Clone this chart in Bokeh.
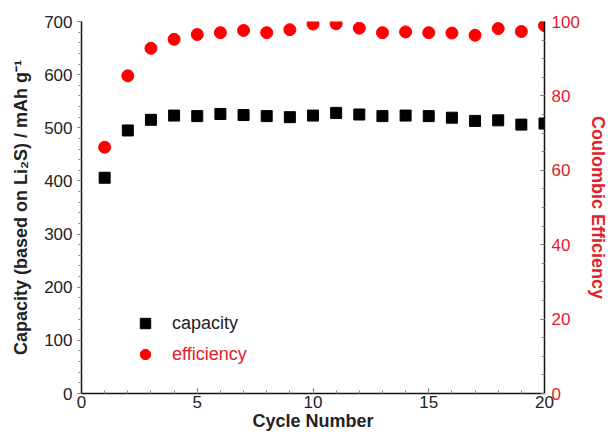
from bokeh.plotting import figure
from bokeh.models import (Range1d, LinearAxis, SingleIntervalTicker, Legend, LegendItem,
                          ColumnDataSource)
from bokeh.embed import file_html
from bokeh.resources import INLINE

cycles = list(range(1, 21))
capacity = [406, 495, 515, 523, 522, 526, 524, 522, 520, 523,
            528, 525, 522, 523, 522, 519, 513, 514, 506, 508]
efficiency = [66.2, 85.4, 92.8, 95.2, 96.5, 97.0, 97.6, 97.0, 97.8, 99.3,
              99.4, 98.2, 97.0, 97.2, 97.0, 96.9, 96.3, 98.1, 97.3, 98.9]

FONT = "Liberation Sans"
RED = "#ff0000"
RED_TXT = "#e3202a"

src = ColumnDataSource(dict(cycle=cycles, cap=capacity, eff=efficiency))

p = figure(width=610, height=436, output_backend="svg", toolbar_location=None,
           x_range=Range1d(0, 20), y_range=Range1d(0, 700),
           min_border_left=81, min_border_right=65, min_border_top=21, min_border_bottom=43)
p.outline_line_color = None
p.xgrid.visible = False
p.ygrid.visible = False
p.background_fill_color = "white"
p.border_fill_color = "white"

p.extra_y_ranges = {"eff": Range1d(0, 100)}

# bottom axis
xa = p.xaxis[0]
xa.ticker = SingleIntervalTicker(interval=5, num_minor_ticks=5)
xa.axis_label = "Cycle Number"
# left axis
ya = p.yaxis[0]
ya.ticker = SingleIntervalTicker(interval=100, num_minor_ticks=5)
ya.axis_label = "Capacity (based on Li\u2082S) / mAh g\u207b\u00b9"

ra = LinearAxis(y_range_name="eff", axis_label="Coulombic Efficiency",
                ticker=SingleIntervalTicker(interval=20, num_minor_ticks=4))
p.add_layout(ra, "right")

for ax in (xa, ya, ra):
    ax.axis_line_width = 1.5
    ax.axis_line_color = "#111111"
    ax.major_tick_line_color = "#555555"
    ax.minor_tick_line_color = "#888888"
    ax.major_label_text_font = FONT
    ax.major_label_text_font_size = "17px"
    ax.axis_label_text_font = FONT
    ax.axis_label_text_font_size = "18px"
    ax.axis_label_text_font_style = "bold"

xa.major_tick_in = 5; xa.major_tick_out = 0
xa.minor_tick_in = 3; xa.minor_tick_out = 0
xa.major_label_standoff = 2
xa.axis_label_standoff = 0
xa.major_label_text_color = "#222222"
xa.axis_label_text_color = "#222222"

ya.major_tick_in = 0; ya.major_tick_out = 4
ya.minor_tick_in = 0; ya.minor_tick_out = 3
ya.major_label_standoff = 5
ya.axis_label_standoff = 10
ya.major_label_text_color = "#222222"
ya.axis_label_text_color = "#222222"

ra.major_tick_in = 4; ra.major_tick_out = 0
ra.minor_tick_in = 3; ra.minor_tick_out = 0
ra.major_label_standoff = 7
ra.axis_label_standoff = 5
ra.major_label_text_color = RED_TXT
ra.axis_label_text_color = RED_TXT

r_cap = p.scatter("cycle", "cap", source=src, marker="square", size=11,
                  fill_color="black", line_color="black")
r_eff = p.scatter("cycle", "eff", source=src, marker="circle", size=12,
                  fill_color=RED, line_color=RED, y_range_name="eff")

def mk_legend(label, renderer, color, loc):
    lg = Legend(items=[LegendItem(label=label, renderers=[renderer])], location=loc,
                padding=0, margin=0, spacing=0, glyph_width=26, glyph_height=26,
                label_height=26, label_standoff=14, border_line_color=None,
                background_fill_alpha=0, label_text_font=FONT,
                label_text_font_size="18px", label_text_color=color)
    p.add_layout(lg, "center")

mk_legend("capacity", r_cap, "#222222", (51, 57))
mk_legend("efficiency", r_eff, RED_TXT, (51, 26))

open("out.html", "w").write(file_html(p, INLINE))
